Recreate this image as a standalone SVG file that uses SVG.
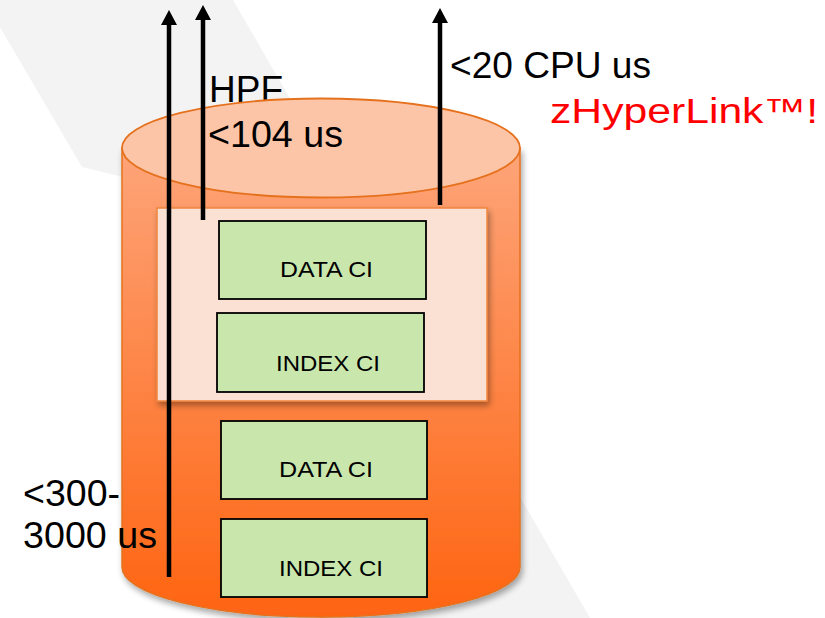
<svg xmlns="http://www.w3.org/2000/svg" width="825" height="618" viewBox="0 0 825 618">
  <style>
    .big { font-family: "Liberation Sans", Arial, sans-serif; font-size: 36px; fill: #000; }
    .red { font-family: "Liberation Sans", Arial, sans-serif; font-size: 35px; fill: #ff0000; }
    .lbl { font-family: "Liberation Sans", Arial, sans-serif; font-size: 22.5px; fill: #000; }
    .box { fill: #c9e7ad; stroke: #000; stroke-width: 1.8; }
    .arrow { stroke: #000; stroke-width: 4.5; fill: none; marker-end: url(#head); }
  </style>
  <defs>
    <linearGradient id="body" x1="0" y1="100" x2="0" y2="617" gradientUnits="userSpaceOnUse">
      <stop offset="0" stop-color="#fdab84"/>
      <stop offset="1" stop-color="#fe6411"/>
    </linearGradient>
    <filter id="shadow" x="-10%" y="-10%" width="120%" height="125%">
      <feGaussianBlur in="SourceAlpha" stdDeviation="3"/>
      <feOffset dx="2" dy="4" result="b"/>
      <feComponentTransfer><feFuncA type="linear" slope="0.35"/></feComponentTransfer>
      <feMerge><feMergeNode/><feMergeNode in="SourceGraphic"/></feMerge>
    </filter>
    <marker id="head" viewBox="0 0 15 16" refX="0" refY="8" markerWidth="15" markerHeight="16" markerUnits="userSpaceOnUse" orient="auto">
      <path d="M0,0 L15,8 L0,16 z" fill="#000"/>
    </marker>
  </defs>

  <rect x="0" y="0" width="825" height="618" fill="#ffffff"/>
  <polygon points="-16,0 233,0 590,618 320,618 320,225 82,167" fill="#f3f3f3"/>

  <text class="big" x="209" y="102" textLength="74" lengthAdjust="spacingAndGlyphs">HPF</text>

  <g id="cylinder">
    <path d="M122,148 L122,567 A199,50 0 0 0 520,567 L520,148 Z" fill="url(#body)" stroke="#e5711d" stroke-width="1.5" filter="url(#shadow)"/>
    <ellipse cx="321" cy="148" rx="199" ry="49.5" fill="#fdc5a8" stroke="#e5711d" stroke-width="1.8"/>
  </g>

  <g id="cache">
    <rect x="157" y="208" width="330" height="193" fill="#fae1d3" stroke="#f0853f" stroke-width="1.5" filter="url(#shadow)"/>
  </g>

  <g id="data-ci-1">
    <rect class="box" x="219" y="221" width="207" height="78"/>
    <text class="lbl" x="280" y="277" textLength="93" lengthAdjust="spacingAndGlyphs">DATA CI</text>
  </g>
  <g id="index-ci-1">
    <rect class="box" x="217" y="313" width="207" height="79"/>
    <text class="lbl" x="276" y="371" textLength="104" lengthAdjust="spacingAndGlyphs">INDEX CI</text>
  </g>
  <g id="data-ci-2">
    <rect class="box" x="221" y="421" width="206" height="78"/>
    <text class="lbl" x="279" y="477" textLength="94" lengthAdjust="spacingAndGlyphs">DATA CI</text>
  </g>
  <g id="index-ci-2">
    <rect class="box" x="221" y="519" width="206" height="78"/>
    <text class="lbl" x="279" y="576" textLength="104" lengthAdjust="spacingAndGlyphs">INDEX CI</text>
  </g>

  <g id="connectors">
    <line class="arrow" x1="169" y1="577" x2="169" y2="25"/>
    <line class="arrow" x1="203" y1="220" x2="203" y2="20"/>
    <line class="arrow" x1="440" y1="205" x2="440" y2="23"/>
  </g>

  <g id="labels">
    <text class="big" x="208" y="147" textLength="135" lengthAdjust="spacingAndGlyphs">&lt;104 us</text>
    <text class="big" x="450" y="78" textLength="201" lengthAdjust="spacingAndGlyphs">&lt;20 CPU us</text>
    <text class="red" x="550" y="123" textLength="268" lengthAdjust="spacingAndGlyphs">zHyperLink™!</text>
    <text class="big" x="23" y="506" textLength="97" lengthAdjust="spacingAndGlyphs">&lt;300-</text>
    <text class="big" x="23" y="548" textLength="134" lengthAdjust="spacingAndGlyphs">3000 us</text>
  </g>
</svg>
